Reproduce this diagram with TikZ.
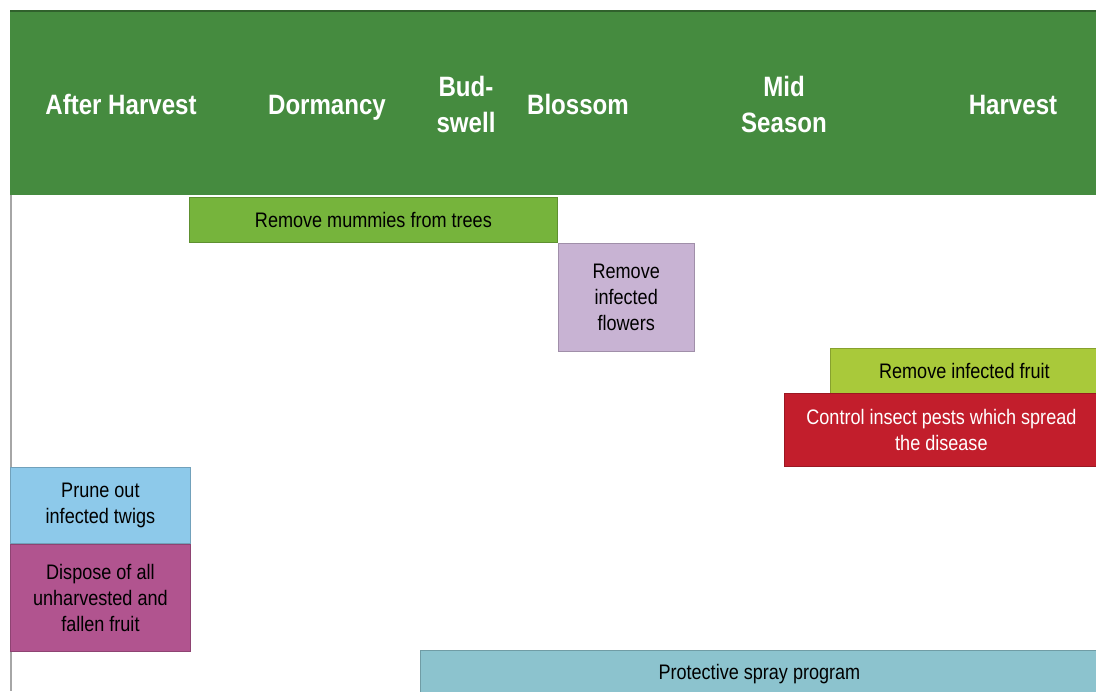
\documentclass[tikz,border=0pt]{standalone}
\usepackage{fontspec}
\setmainfont{Liberation Sans}[FakeStretch=0.86]
\usetikzlibrary{positioning}
\definecolor{headgreen}{HTML}{458B3F}
\definecolor{mummycol}{HTML}{76B43C}
\definecolor{flowercol}{HTML}{C8B3D3}
\definecolor{fruitcol}{HTML}{A9C93A}
\definecolor{pestcol}{HTML}{C21E2C}
\definecolor{twigcol}{HTML}{8DC9EA}
\definecolor{fallencol}{HTML}{B1548F}
\definecolor{spraycol}{HTML}{8CC3CE}
\tikzset{%
  stage/.style={
    text=white,
    align=center,
    font=\bfseries\fontsize{14}{18}\selectfont
  },
  task/.style={
    draw=#1!80!black,
    fill=#1,
    line width=0.4pt,
    inner sep=1pt,
    align=center,
    font=\fontsize{10.5}{13}\selectfont
  },
}

\begin{document}
\begin{tikzpicture}[x=0.5pt,y=-0.5pt]
      \useasboundingbox[fill=white] (0,0) rectangle (1096,691);

      % header band
      \fill[headgreen] (10,10) rectangle (1096,195);
      \draw[headgreen!70!black, line width=1pt] (10,11) -- (1096,11);
      \draw[gray!70, line width=1pt] (11,195) -- (11,691);

      \node[stage, anchor=base] (after) at (121,114) {After Harvest};
      \node[stage, anchor=base] (dorm)  at (327,114) {Dormancy};
      \node[stage] (bud)   at (466,104) {Bud-\\swell};
      \node[stage, anchor=base] (bloss) at (578,114) {Blossom};
      \node[stage] (mid)   at (784,104) {Mid\\Season};
      \node[stage, anchor=base] (harv)  at (1013,114) {Harvest};

      % tasks
      \node[task=mummycol, anchor=north west, minimum width=184pt, minimum height=22.5pt]
        (mummies) at (189,197) {Remove mummies from trees};
      \node[task=flowercol, below right=0pt and 0pt of mummies, minimum width=68pt, minimum height=54pt]
        (flowers) {Remove\\infected\\flowers};

      \node[task=fruitcol, anchor=north west, minimum width=134pt, minimum height=22.5pt]
        (fruit) at (830,348) {Remove infected fruit};
      \node[task=pestcol, text=white, anchor=north west, minimum width=157pt, minimum height=36.5pt]
        (pests) at (784,393) {Control insect pests which spread\\the disease};

      \node[task=twigcol, anchor=north west, minimum width=90pt, minimum height=38pt]
        (twigs) at (10,467) {Prune out\\infected twigs};
      \node[task=fallencol, below=0pt of twigs, minimum width=90pt, minimum height=53.5pt]
        (fallen) {Dispose of all\\unharvested and\\fallen fruit};

      \node[task=spraycol, anchor=north west, minimum width=339pt, minimum height=24pt]
        (spray) at (420,650) {Protective spray program};
\end{tikzpicture}
\end{document}
